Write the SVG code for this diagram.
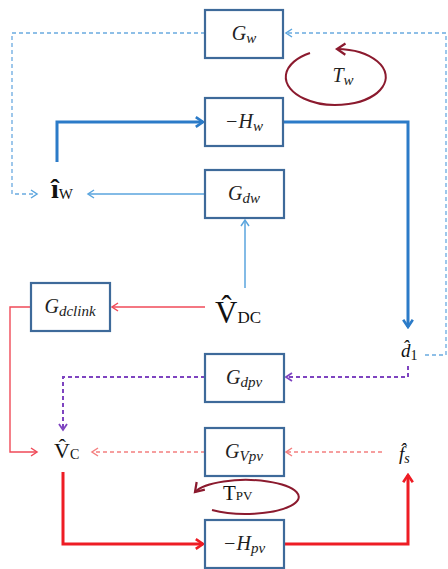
<svg xmlns="http://www.w3.org/2000/svg" width="448" height="569" viewBox="0 0 448 569">
<style>
.box{fill:#fff;stroke:#3e6a9a;stroke-width:2.2}
.lbl{font-family:"Liberation Serif","DejaVu Serif",serif;font-style:italic;font-size:20px;fill:#222;text-anchor:middle}
.sub{font-size:15px}
.var{font-family:"Liberation Serif","DejaVu Serif",serif;fill:#111}
.c{fill:none}
.tb{stroke:#2b7bc8;stroke-width:3}
.lb{stroke:#5aa5de;stroke-width:1.5}
.lbd{stroke:#6aaae0;stroke-width:1.3;stroke-dasharray:4 3}
.rt{stroke:#f04a58;stroke-width:1.4}
.rd{stroke:#f47f7f;stroke-width:1.4;stroke-dasharray:4 3}
.rk{stroke:#ee1c24;stroke-width:3}
.pd{stroke:#7e44c0;stroke-width:2;stroke-dasharray:4 3}
.lp{fill:none;stroke:#8b1a2e;stroke-width:2}
</style>
<defs>
<marker id="aTB" viewBox="0 0 10 10" refX="8" refY="5" markerWidth="12" markerHeight="12" markerUnits="userSpaceOnUse" orient="auto"><path d="M2,1 L8,5 L2,9" fill="none" stroke="#2b7bc8" stroke-width="2.2"/></marker>
<marker id="aLB" viewBox="0 0 10 10" refX="8" refY="5" markerWidth="10" markerHeight="10" markerUnits="userSpaceOnUse" orient="auto"><path d="M2,1 L8,5 L2,9" fill="none" stroke="#5aa5de" stroke-width="1.5"/></marker>
<marker id="aRT" viewBox="0 0 10 10" refX="8" refY="5" markerWidth="10" markerHeight="10" markerUnits="userSpaceOnUse" orient="auto"><path d="M2,1 L8,5 L2,9" fill="none" stroke="#f04a58" stroke-width="1.5"/></marker>
<marker id="aRD" viewBox="0 0 10 10" refX="8" refY="5" markerWidth="10" markerHeight="10" markerUnits="userSpaceOnUse" orient="auto"><path d="M2,1 L8,5 L2,9" fill="none" stroke="#f47f7f" stroke-width="1.5"/></marker>
<marker id="aRK" viewBox="0 0 10 10" refX="8" refY="5" markerWidth="12" markerHeight="12" markerUnits="userSpaceOnUse" orient="auto"><path d="M2,1 L8,5 L2,9" fill="none" stroke="#ee1c24" stroke-width="2.2"/></marker>
<marker id="aPD" viewBox="0 0 10 10" refX="8" refY="5" markerWidth="10" markerHeight="10" markerUnits="userSpaceOnUse" orient="auto"><path d="M2,1 L8,5 L2,9" fill="none" stroke="#7e44c0" stroke-width="1.8"/></marker>
<marker id="aLP" viewBox="0 0 10 10" refX="8" refY="5" markerWidth="14" markerHeight="14" markerUnits="userSpaceOnUse" orient="auto"><path d="M2,1 L8,5 L2,9" fill="none" stroke="#8b1a2e" stroke-width="1.6"/></marker>
</defs>
<rect width="448" height="569" fill="#fff"/>
<g id="connectors">
<path class="c lbd" d="M425,355 H446 V33 H286" marker-end="url(#aLB)"/>
<path class="c lbd" d="M205,33 H12 V194 H37" marker-end="url(#aLB)"/>
<path class="c tb" d="M57,162 V122 H203" marker-end="url(#aTB)"/>
<path class="c tb" d="M283,122 H408 V327" marker-end="url(#aTB)"/>
<path class="c lb" d="M205,194 H88" marker-end="url(#aLB)"/>
<path class="c lb" d="M245,288 V220" marker-end="url(#aLB)"/>
<path class="c rt" d="M205,307 H112" marker-end="url(#aRT)"/>
<path class="c rt" d="M31,307 H10 V452 H37" marker-end="url(#aRT)"/>
<path class="c pd" d="M408,366 V377 H286" marker-end="url(#aPD)"/>
<path class="c pd" d="M205,377 H63 V430" marker-end="url(#aPD)"/>
<path class="c rd" d="M382,452 H286" marker-end="url(#aRD)"/>
<path class="c rd" d="M205,452 H92" marker-end="url(#aRD)"/>
<path class="c rk" d="M63,472 V544 H203" marker-end="url(#aRK)"/>
<path class="c rk" d="M284,544 H408 V475" marker-end="url(#aRK)"/>
</g>
<g id="Gw"><rect class="box" x="205" y="10" width="78" height="48"/><text class="lbl" x="244" y="40">G<tspan class="sub" dy="3">w</tspan></text></g>
<g id="Hw"><rect class="box" x="205" y="98" width="78" height="48"/><text class="lbl" x="244" y="128">−H<tspan class="sub" dy="3">w</tspan></text></g>
<g id="Gdw"><rect class="box" x="205" y="170" width="79" height="48"/><text class="lbl" x="244" y="200">G<tspan class="sub" dy="3">dw</tspan></text></g>
<g id="Gdclink"><rect class="box" x="31" y="283" width="79" height="48"/><text class="lbl" x="70" y="313">G<tspan class="sub" dy="3">dclink</tspan></text></g>
<g id="Gdpv"><rect class="box" x="205" y="354" width="79" height="48"/><text class="lbl" x="244" y="384">G<tspan class="sub" dy="3">dpv</tspan></text></g>
<g id="Gvpv"><rect class="box" x="205" y="428" width="79" height="48"/><text class="lbl" x="244" y="458">G<tspan class="sub" dy="3">Vpv</tspan></text></g>
<g id="Hpv"><rect class="box" x="205" y="520" width="79" height="48"/><text class="lbl" x="244" y="550">−H<tspan class="sub" dy="3">pv</tspan></text></g>
<g id="iw"><text class="var" x="51" y="198" font-size="28"><tspan font-weight="bold">î</tspan><tspan font-size="15" dy="1">W</tspan></text></g>
<g id="vc"><text class="var" x="54" y="458" font-size="22">V̂<tspan font-size="14" dy="1">C</tspan></text></g>
<g id="VDC"><text class="var" x="215" y="323" font-size="31">V̂<tspan font-size="17">DC</tspan></text></g>
<g id="d1"><text class="var" x="401" y="357" font-size="19"><tspan font-style="italic">d̂</tspan><tspan font-size="14" dy="3">1</tspan></text></g>
<g id="fs"><text class="var" x="399" y="460" font-size="19" font-style="italic">f̂<tspan font-size="14" dy="3">s</tspan></text></g>
<g id="Tw"><path class="lp" d="M310,53 A50,28 0 1 0 337,49" marker-end="url(#aLP)"/><text class="lbl" x="343" y="82">T<tspan class="sub" dy="3">w</tspan></text></g>
<g id="Tpv"><path class="lp" d="M212,510 A53,17 0 1 0 195,492" marker-end="url(#aLP)"/><text class="var" x="223" y="500" font-size="21" fill="#222">T<tspan font-size="13">PV</tspan></text></g>
</svg>
